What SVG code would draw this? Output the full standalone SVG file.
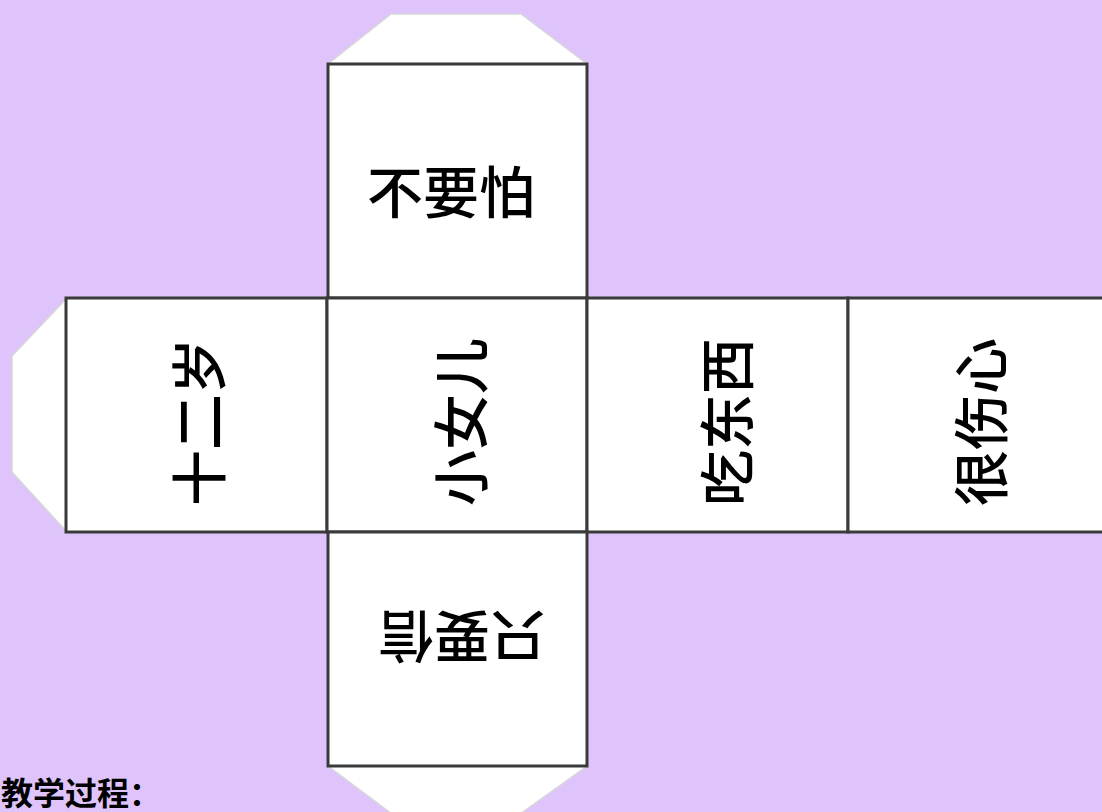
<svg xmlns="http://www.w3.org/2000/svg" width="1102" height="812" viewBox="0 0 1102 812">
<style>
.tab{fill:#fff;stroke:#d8d8d8;stroke-width:1.5}
.face{fill:#fff;stroke:#3a3a3a;stroke-width:3}
.lbl{font-family:"Noto Sans CJK SC","Noto Sans CJK TC",sans-serif;font-size:56px;font-weight:500;fill:#000;text-anchor:middle;dominant-baseline:central}
.cap{font-family:"Noto Sans CJK SC",sans-serif;font-size:32px;font-weight:700;fill:#000}
</style>
<rect x="0" y="0" width="1102" height="812" fill="#DEC4FA"/>
<g id="tab-top"><polygon class="tab" points="328,64 391,14 521,14 587,64"/></g>
<g id="tab-left"><polygon class="tab" points="66,299 12,356 12,472 66,531"/></g>
<g id="tab-bottom"><polygon class="tab" points="328,766 392,814 520,814 587,766"/></g>
<g id="face-top"><rect class="face" x="328" y="64" width="259" height="234"/><text class="lbl" x="451" y="188">不要怕</text></g>
<g id="face-left"><rect class="face" x="66" y="298" width="261" height="234"/><text class="lbl" transform="translate(195,422) rotate(-90)">十二岁</text></g>
<g id="face-center"><rect class="face" x="327" y="298" width="260" height="234"/><text class="lbl" transform="translate(457,422) rotate(-90)">小女儿</text></g>
<g id="face-right1"><rect class="face" x="587" y="298" width="261" height="234"/><text class="lbl" transform="translate(723,422) rotate(-90)">吃东西</text></g>
<g id="face-right2"><rect class="face" x="848" y="298" width="262" height="234"/><text class="lbl" transform="translate(977,422) rotate(-90)">很伤心</text></g>
<g id="face-bottom"><rect class="face" x="328" y="532" width="259" height="234"/><text class="lbl" transform="translate(462,640) rotate(180)">只要信</text></g>
<g id="connectors"/>
<text class="cap" x="1" y="805">教学过程：</text>
</svg>
